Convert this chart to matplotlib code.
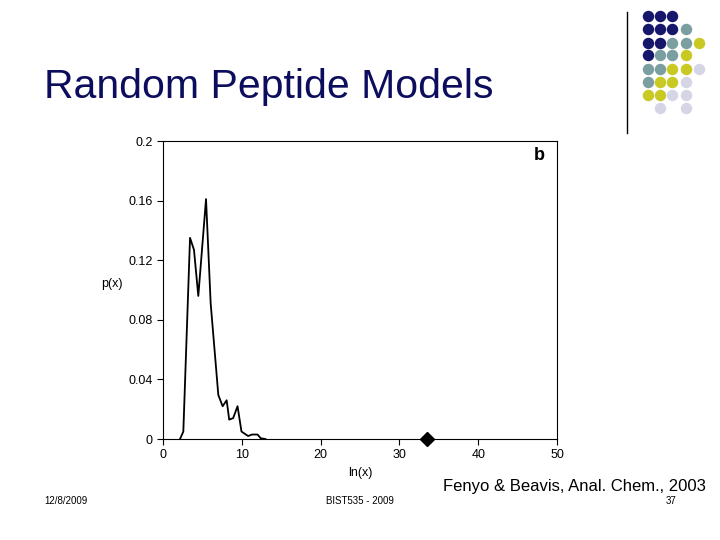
import matplotlib.pyplot as plt

# curve
ln_x = [2.16, 2.58, 3.43, 3.93, 4.48, 5.46, 6.05, 7.02, 7.57, 8.08, 8.4, 8.9,
        9.46, 9.96, 10.8, 11.3, 12.0, 12.4, 13.0]
p_x = [0, 0.005, 0.135, 0.127, 0.096, 0.161, 0.091, 0.0295, 0.022, 0.026, 0.013,
       0.014, 0.022, 0.005, 0.002, 0.003, 0.003, 0.0005, 0]
marker_x = [33.5]
marker_y = [0]
x_ticks = [0, 10, 20, 30, 40, 50]
y_ticks = [0, 0.04, 0.08, 0.12, 0.16, 0.2]
y_labels = ["0", "0.04", "0.08", "0.12", "0.16", "0.2"]

dot_rows = ["NNN", "NNNT", "NNTTY", "NTTY", "TTYYL", "TYYL", "YYLL", " L L"]
dot_colours = {"N": "#16166b", "T": "#7b9fa0", "Y": "#c9c923", "L": "#d5d5e6"}

plt.rcParams["font.family"] = ["Liberation Sans", "DejaVu Sans"]
fig = plt.figure(figsize=(7.2, 5.4), dpi=100)
W, H = 720, 540

fig.text(44 / W, 1 - 87 / H, "Random Peptide Models", fontsize=29.5,
         color="#0d0d5e", va="center")

# decorative dots
bg = fig.add_axes([0, 0, 1, 1])
bg.set_xlim(0, W)
bg.set_ylim(H, 0)
bg.axis("off")
col_x = [647.7, 660, 672.3, 686, 699.3]
row_y = [16, 29, 42.7, 55, 69.3, 81.7, 95, 108.3]
for r, row in enumerate(dot_rows):
    for c, ch in enumerate(row):
        if ch != " ":
            bg.scatter(col_x[c], row_y[r], s=68, color=dot_colours[ch], lw=0)
bg.plot([627, 627], [12, 133], color="black", lw=1)

ax = fig.add_axes([163 / W, 1 - 439 / H, 394 / W, 298 / H])
ax.plot(ln_x, p_x, color="black", lw=1.3)
ax.plot(marker_x, marker_y, marker="D", color="black", ms=7, ls="none",
        clip_on=False)
ax.set_xlim(0, 50)
ax.set_ylim(0, 0.2)
ax.set_xticks(x_ticks)
ax.set_yticks(y_ticks)
ax.set_yticklabels(y_labels)
ax.tick_params(labelsize=9, direction="out", length=4)
ax.set_xlabel("ln(x)", fontsize=9)
ax.set_ylabel("p(x)", fontsize=9, rotation=0)
ax.yaxis.set_label_coords(-0.13, 0.5)
ax.text(0.97, 0.95, "b", transform=ax.transAxes, fontsize=13,
        fontweight="bold", ha="right", va="center")

fig.text(706 / W, 1 - 487 / H, "Fenyo & Beavis, Anal. Chem., 2003",
         fontsize=12, ha="right", va="center")
fig.text(44 / W, 1 - 501 / H, "12/8/2009", fontsize=7, va="center")
fig.text(360 / W, 1 - 501 / H, "BIST535 - 2009", fontsize=7, ha="center", va="center")
fig.text(671 / W, 1 - 501 / H, "37", fontsize=7, ha="center", va="center")

fig.savefig("out.png", dpi=100)
